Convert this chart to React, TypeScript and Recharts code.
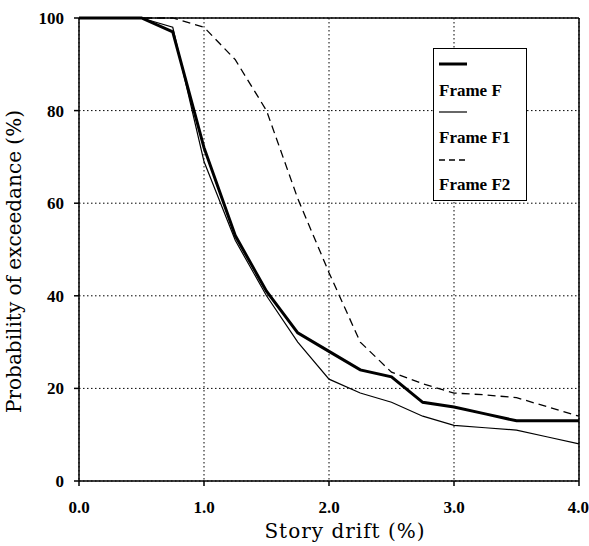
import React from 'react';
import { LineChart, Line, XAxis, YAxis, CartesianGrid, ReferenceLine } from 'recharts';

document.body.style.margin = '0';

const drift = [0, 0.25, 0.5, 0.75, 1.0, 1.25, 1.5, 1.75, 2.0, 2.25, 2.5, 2.75, 3.0, 3.25, 3.5, 3.75, 4.0];
const frameF = [100, 100, 100, 97, 72, 53, 41, 32, 28, 24, 22.5, 17, 16, 14.5, 13, 13, 13];
const frameF1 = [100, 100, 100, 98, 69, 52, 40, 30, 22, 19, 17, 14, 12, 11.5, 11, 9.5, 8];
const frameF2 = [100, 100, 100, 100, 98, 91, 80, 61, 45, 30, 23.5, 21, 19, 18.6, 18, 16, 14];
const xTicks = [0, 1, 2, 3, 4];
const yTicks = [0, 20, 40, 60, 80, 100];

const series = [
  { key: 'F', name: 'Frame F', width: 3, dash: undefined },
  { key: 'F1', name: 'Frame F1', width: 1.2, dash: undefined },
  { key: 'F2', name: 'Frame F2', width: 1.3, dash: '8 5' },
];

const data = drift.map((d, i) => ({ drift: d, F: frameF[i], F1: frameF1[i], F2: frameF2[i] }));

const tickFont = '"Liberation Serif", "Times New Roman", serif';
const titleFont = '"DejaVu Serif", serif';

// last x tick sits flush with the right edge, so pull it in a bit
function XTick(props: any) {
  const { x, y, payload } = props;
  const last = payload.value === 4;
  return (
    <text
      x={last ? x + 10 : x}
      y={y}
      dy="0.71em"
      textAnchor={last ? 'end' : 'middle'}
      fill="#000"
      fontFamily={tickFont}
      fontSize={17}
      fontWeight="bold"
    >
      {Number(payload.value).toFixed(1)}
    </text>
  );
}

// legend drawn as an overlay so it doesn't eat plot space
function LegendBox() {
  return (
    <div
      style={{
        position: 'absolute',
        left: 433,
        top: 48,
        width: 94,
        height: 153,
        border: '1.5px solid #000',
        background: '#fff',
        fontFamily: tickFont,
        fontSize: 17,
        fontWeight: 'bold',
        color: '#000',
        boxSizing: 'border-box',
      }}
    >
      {series.map((s, i) => (
        <React.Fragment key={s.key}>
          <svg width={30} height={10} style={{ position: 'absolute', left: 5, top: 10 + i * 48 }}>
            <line x1={0} y1={5} x2={28} y2={5} stroke="#000" strokeWidth={s.width} strokeDasharray={s.dash ? '6 4' : undefined} />
          </svg>
          <div style={{ position: 'absolute', left: 5, top: 32 + i * 47, lineHeight: '20px', whiteSpace: 'nowrap' }}>{s.name}</div>
        </React.Fragment>
      ))}
    </div>
  );
}

export default function App() {
  return (
    <div style={{ position: 'relative', width: 589, height: 546, background: '#fff' }}>
      <LineChart width={589} height={546} data={data} margin={{ top: 18, right: 10, bottom: 0, left: 0 }}>
        <CartesianGrid stroke="#000" strokeDasharray="1.5 2.5" strokeWidth={1} />
        <XAxis
          dataKey="drift"
          type="number"
          domain={[0, 4]}
          ticks={xTicks}
          height={65}
          stroke="#000"
          strokeWidth={1.5}
          tickSize={5}
          tickMargin={15}
          tick={<XTick />}
          label={{ value: 'Story drift (%)', position: 'insideBottom', offset: 8, dx: 16, fill: '#000', fontFamily: titleFont, fontSize: 20, letterSpacing: 1 }}
        />
        <YAxis
          type="number"
          domain={[0, 100]}
          ticks={yTicks}
          width={79}
          stroke="#000"
          strokeWidth={1.5}
          tickSize={5}
          tickMargin={10}
          tick={{ fill: '#000', fontFamily: tickFont, fontSize: 17, fontWeight: 'bold' }}
          label={{ value: 'Probability of exceedance (%)', angle: -90, position: 'insideLeft', offset: 14, dy: 12, fill: '#000', fontFamily: titleFont, fontSize: 20, style: { textAnchor: 'middle' } }}
        />
        <ReferenceLine y={100} stroke="#000" strokeWidth={1.5} />
        <ReferenceLine x={4} stroke="#000" strokeWidth={1.5} />
        {series.map((s) => (
          <Line
            key={s.key}
            dataKey={s.key}
            name={s.name}
            stroke="#000"
            strokeWidth={s.width}
            strokeDasharray={s.dash}
            dot={false}
            activeDot={false}
            type="linear"
            isAnimationActive={false}
          />
        ))}
      </LineChart>
      <LegendBox />
    </div>
  );
}
